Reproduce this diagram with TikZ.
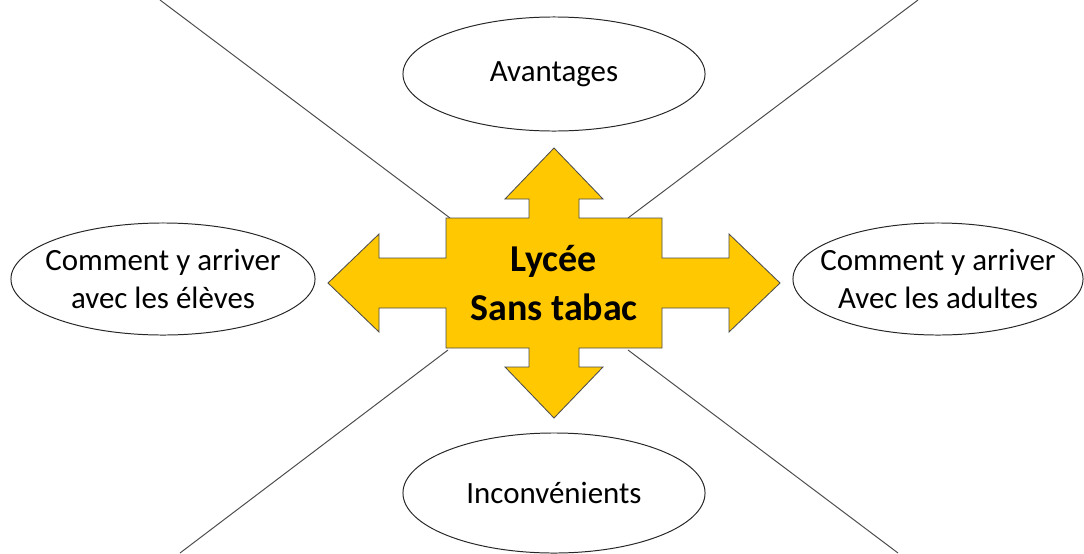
\documentclass[tikz,border=0pt]{standalone}
\usepackage{fontspec}
\setmainfont{Carlito}
\usetikzlibrary{shapes.geometric}
\definecolor{jaune}{RGB}{255,200,0}
\tikzset{
  bulle/.style={ellipse, draw=black!85, line width=.7pt, inner xsep=-1cm, inner ysep=0pt,
    align=center, font=\fontsize{22}{26.5}\selectfont},
  trait/.style={draw=black!70, line width=.7pt}
}
\begin{document}
\begin{tikzpicture}[x=0.025cm, y=-0.025cm]
\clip (0,0) rectangle (1084,553);
% les quatre traits en croix
\coordinate (hg) at (160,0);
\coordinate (hd) at (918,0);
\coordinate (bg) at (180,553);
\coordinate (bd) at (898,553);
\coordinate (c1) at (450,218);
\coordinate (c2) at (628,218);
\coordinate (c3) at (448,350);
\coordinate (c4) at (628,350);
\draw[trait] (hg)--(c1);
\draw[trait] (hd)--(c2);
\draw[trait] (bg)--(c3);
\draw[trait] (bd)--(c4);
% la fleche a quatre branches
\coordinate (centre) at (554,283);
\filldraw[fill=jaune, draw=black!70, line width=.6pt, shift={(centre)}]
  (-108,-65)--(-25,-65)--(-25,-84)--(-49,-84)--(0,-135)--(49,-84)--(25,-84)--(25,-65)
  --(108,-65)--(108,-25)--(175,-25)--(175,-49)--(226,0)--(175,49)--(175,25)--(108,25)
  --(108,65)--(25,65)--(25,84)--(49,84)--(0,135)--(-49,84)--(-25,84)--(-25,65)
  --(-108,65)--(-108,25)--(-175,25)--(-175,49)--(-226,0)--(-175,-49)--(-175,-25)--(-108,-25)--cycle;
\node (lycee) at (centre)[align=center, font=\bfseries\fontsize{27}{35.5}\selectfont]{Lyc\'ee\\Sans tabac};
% les bulles
\node (avant) at (554,74)[bulle, minimum width=7.55cm, minimum height=2.85cm]{Avantages};
\node (incon) at (554,493)[bulle, minimum width=7.55cm, minimum height=3cm]{Inconv\'enients};
\node (eleves) at (163,279)[bulle, minimum width=7.6cm, minimum height=2.8cm]{Comment y arriver\\avec les \'el\`eves};
\node (adultes) at (938,279)[bulle, minimum width=7.25cm, minimum height=2.8cm]{Comment y arriver\\Avec les adultes};
\end{tikzpicture}
\end{document}
